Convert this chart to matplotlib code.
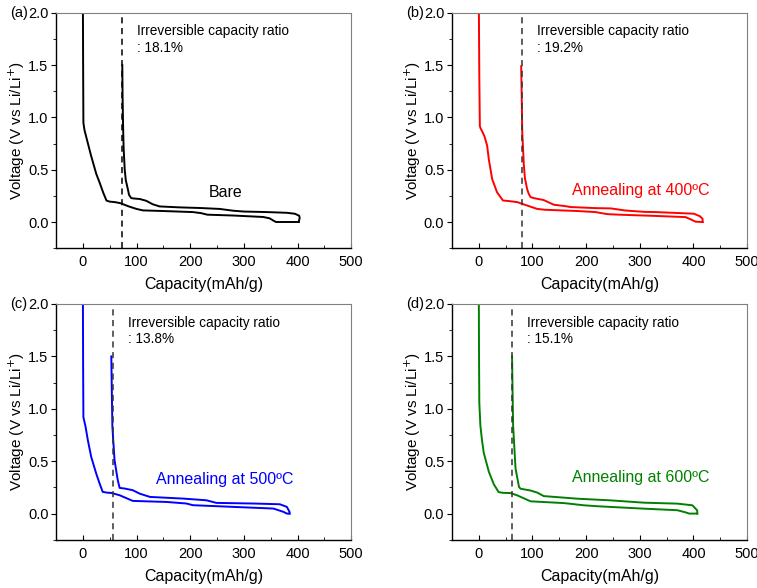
import matplotlib.pyplot as plt
from matplotlib.ticker import MultipleLocator

plt.rcParams['font.family'] = ['Liberation Sans', 'DejaVu Sans']

# (a) Bare
cap_dis_a = [0, 0.5, 1, 3, 6, 10, 15, 20, 25, 31, 38, 44, 50, 60, 70, 85, 100, 112, 150, 205,
             220, 232, 280, 336, 348, 356, 360, 402]
v_dis_a = [2.2, 1.5, 0.95, 0.88, 0.82, 0.74, 0.64, 0.55, 0.46, 0.38, 0.28, 0.205, 0.195, 0.19,
           0.18, 0.15, 0.125, 0.111, 0.105, 0.095, 0.085, 0.07, 0.062, 0.048, 0.035, 0.01, 0.0, 0.0]
cap_ch_a = [402, 404, 403, 395, 380, 343, 300, 280, 255, 218, 180, 143, 130, 118, 106, 95, 90,
            86, 84, 80, 78, 76, 75, 74, 73.5]
v_ch_a = [0.0, 0.04, 0.06, 0.079, 0.088, 0.095, 0.1, 0.108, 0.125, 0.134, 0.14, 0.149, 0.17,
          0.203, 0.22, 0.225, 0.229, 0.26, 0.31, 0.4, 0.5, 0.7, 0.9, 1.2, 1.5]

# (b) 400 C
cap_dis_b = [0, 1, 2, 3, 6, 10.6, 15.6, 18.7, 25, 34, 45, 60, 72, 84, 109, 124, 184, 217, 240,
             267, 330, 385, 395, 404, 417]
v_dis_b = [2.2, 1.4, 0.92, 0.9, 0.87, 0.82, 0.73, 0.60, 0.41, 0.285, 0.206, 0.198, 0.19, 0.168,
           0.125, 0.117, 0.105, 0.095, 0.075, 0.069, 0.058, 0.047, 0.025, 0.003, 0.0]
cap_ch_b = [417, 417, 412, 401, 389, 329, 308, 273, 246, 217, 171, 161, 140, 136, 121, 103, 96.5,
            93, 90, 86, 84, 81, 80, 79]
v_ch_b = [0.0, 0.03, 0.055, 0.079, 0.082, 0.095, 0.097, 0.11, 0.13, 0.133, 0.143, 0.152, 0.165,
          0.174, 0.21, 0.228, 0.238, 0.27, 0.317, 0.42, 0.54, 0.86, 1.2, 1.49]

# (c) 500 C
cap_dis_c = [0, 0.5, 1, 5, 9.3, 15.6, 25, 31, 37, 45, 53, 68.5, 93, 156, 193, 205, 280, 355,
             374, 380, 385]
v_dis_c = [2.2, 1.4, 0.92, 0.83, 0.70, 0.54, 0.38, 0.29, 0.207, 0.2, 0.197, 0.175, 0.121, 0.111,
           0.096, 0.08, 0.064, 0.048, 0.016, 0.0, 0.0]
cap_ch_c = [385, 385, 380, 367, 318, 249, 230, 187, 125, 106, 93, 78, 68.5, 65, 59, 55, 54, 53]
v_ch_c = [0.0, 0.016, 0.064, 0.089, 0.096, 0.102, 0.127, 0.143, 0.159, 0.19, 0.223, 0.239,
          0.245, 0.32, 0.51, 0.83, 1.15, 1.5]

# (d) 600 C
cap_dis_d = [0, 0.5, 1, 3, 6, 9.3, 18.7, 28, 37, 45, 59, 71.6, 96.5, 159, 196, 221, 308, 370,
             385, 392, 407]
v_dis_d = [2.2, 1.5, 1.06, 0.84, 0.70, 0.58, 0.40, 0.28, 0.205, 0.198, 0.196, 0.174, 0.117, 0.10,
           0.079, 0.07, 0.047, 0.032, 0.012, 0.0, 0.0]
cap_ch_d = [407, 407, 398, 370, 308, 246, 184, 121, 109, 96.5, 78, 75, 68.5, 64, 63, 62]
v_ch_d = [0.0, 0.03, 0.079, 0.095, 0.104, 0.126, 0.142, 0.167, 0.2, 0.22, 0.237, 0.253, 0.43,
          0.84, 1.15, 1.5]

irr_cap = [72, 80, 56, 61]
irr_ratio = ['18.1%', '19.2%', '13.8%', '15.1%']
sample_names = ['Bare', 'Annealing at 400ºC', 'Annealing at 500ºC', 'Annealing at 600ºC']
panel_tags = ['(a)', '(b)', '(c)', '(d)']

discharge = [(cap_dis_a, v_dis_a), (cap_dis_b, v_dis_b), (cap_dis_c, v_dis_c), (cap_dis_d, v_dis_d)]
charge = [(cap_ch_a, v_ch_a), (cap_ch_b, v_ch_b), (cap_ch_c, v_ch_c), (cap_ch_d, v_ch_d)]

colors = ['black', '#ff0000', '#0000ff', '#008000']
dash_colors = ['black', '#333333', '#333333', '#333333']
name_pos = [(266, 0.28), (301, 0.30), (265, 0.33), (301, 0.34)]
boxes = [[0.074, 0.578, 0.39, 0.400], [0.597, 0.578, 0.39, 0.400],
         [0.074, 0.082, 0.39, 0.401], [0.597, 0.082, 0.39, 0.401]]

fig = plt.figure(figsize=(7.57, 5.88), dpi=100)

for i in range(4):
    ax = fig.add_axes(boxes[i])
    ax.plot(discharge[i][0], discharge[i][1], color=colors[i], lw=1.4)
    ax.plot(charge[i][0], charge[i][1], color=colors[i], lw=1.4)
    ax.axvline(irr_cap[i], color=dash_colors[i], ls=(0, (4, 3)), lw=1.1)

    ax.set_xlim(-50, 500)
    ax.set_ylim(-0.25, 2.0)
    ax.xaxis.set_major_locator(MultipleLocator(100))
    ax.xaxis.set_minor_locator(MultipleLocator(50))
    ax.yaxis.set_major_locator(MultipleLocator(0.5))
    ax.yaxis.set_minor_locator(MultipleLocator(0.25))
    ax.yaxis.set_major_formatter(plt.FormatStrFormatter('%.1f'))
    ax.tick_params(axis='x', which='both', direction='in', top=False, labelsize=10.5, pad=5)
    ax.tick_params(axis='y', which='both', direction='out', right=False, labelsize=10.5, pad=2)
    ax.tick_params(which='major', length=3.5)
    ax.tick_params(which='minor', length=2.5)

    for s in ['top', 'right']:
        ax.spines[s].set_color('#808080')
    for s in ['left', 'bottom']:
        ax.spines[s].set_linewidth(1.0)

    ax.set_xlabel('Capacity(mAh/g)', fontsize=11.5, labelpad=6)
    ax.set_ylabel('Voltage (V vs Li/Li$^{+}$)', fontsize=11, labelpad=0.5)

    ax.text(irr_cap[i] + 28, 1.89, 'Irreversible capacity ratio\n: ' + irr_ratio[i],
            fontsize=9.8, va='top', ha='left', linespacing=1.2)
    ax.text(name_pos[i][0], name_pos[i][1], sample_names[i], color=colors[i],
            fontsize=11.5, ha='center', va='center')
    ax.text(-0.155, 1.0, panel_tags[i], transform=ax.transAxes, fontsize=10.5,
            ha='left', va='center')

fig.savefig('out.png', dpi=100)
